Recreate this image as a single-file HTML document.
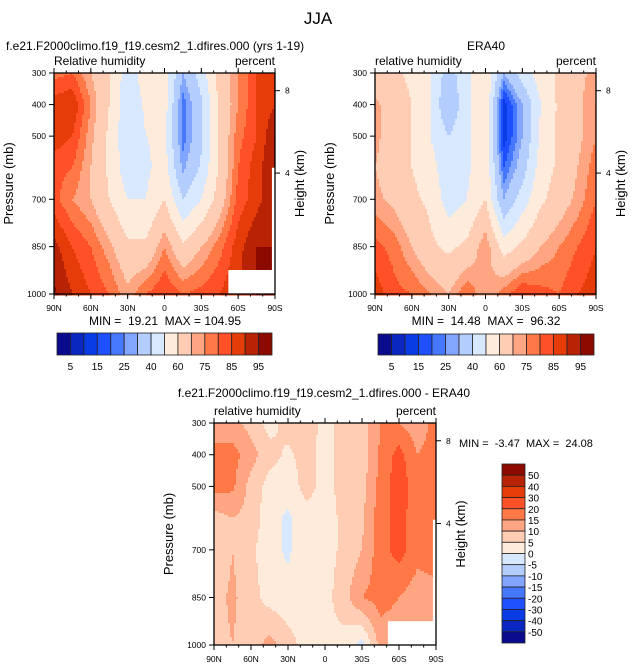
<!DOCTYPE html>
<html><head><meta charset="utf-8">
<style>
body{margin:0;background:#fff;width:637px;height:669px;overflow:hidden}
svg{display:block;font-family:"Liberation Sans",sans-serif}
text{white-space:pre}
</style></head><body>
<svg id="s" width="637" height="669" viewBox="0 0 637 669" xmlns="http://www.w3.org/2000/svg">
<text x="318" y="24" font-size="17" text-anchor="middle">JJA</text>
</svg>
<script>
// ---- data ----
const lats = [90,75,60,45,30,15,0,-15,-30,-45,-60,-75,-90];
const levels = [300,400,500,600,700,850,1000];
const modelRH = [
[78,80,70,60,45,55,55,30,45,65,75,85,90],
[88,90,75,60,42,52,55,22,38,62,75,85,90],
[88,85,72,58,42,50,52,22,38,62,78,85,95],
[82,80,70,58,44,48,55,28,42,62,80,88,95],
[82,75,70,60,50,50,60,40,50,65,82,88,95],
[92,85,80,72,62,62,75,62,70,78,88,95,95],
[96,90,85,80,72,80,85,80,82,85,90,95,95]];
const eraRH = [
[62,62,58,50,35,48,60,30,45,55,62,68,72],
[72,65,60,50,30,48,60,12,30,50,62,68,75],
[72,65,60,50,40,48,58,12,30,52,62,68,75],
[70,65,60,55,42,48,58,20,35,55,62,70,78],
[72,68,62,58,45,50,60,30,45,58,65,72,80],
[82,78,70,62,58,62,75,55,62,70,75,80,85],
[88,82,80,75,70,80,70,78,85,82,80,85,88]];
const diffRH = [
[12,12,8,3,7,8,3,7,7,15,15,12,17],
[17,17,12,7,4,7,3,7,7,16,22,15,17],
[17,16,8,3,2,7,3,7,8,17,23,17,18],
[8,10,8,2,-1,3,3,6,9,18,22,17,19],
[6,10,6,2,-1,4,3,6,10,18,22,17,19],
[8,11,7,3,2,4,3,8,15,17,15,12,12],
[8,10,7,12,7,3,4,3,-2,12,12,12,12]];
// missing-data regions: [latMax (south edge start), pressureMin]
const modelMask = [[-52,924],[-87.5,600]];
const diffMask = [[-51,925],[-87.5,605]];
const eraMask = [];
const rhLevels = [5,10,15,20,25,30,40,50,60,70,75,80,85,90,95];
const rhLabels = ["5","15","25","40","60","75","85","95"];
const diffLevels = [-50,-40,-30,-20,-15,-10,-5,0,5,10,15,20,30,40,50];
const diffLabels = ["50","40","30","20","15","10","5","0","-5","-10","-15","-20","-30","-40","-50"];
const latTicks = ["90N","60N","30N","0","30S","60S","90S"];
const latTickVals = [90,60,30,0,-30,-60,-90];
const presTicks = [300,400,500,700,850,1000];
const hgtTicks = [8,4];
const hgtTickP = [356,617];
const colors = ["#0a0a8c","#0a28c0","#0a3ce6","#1e50ff","#4678ff","#82a5ff","#b4cdff","#d7e8ff","#ffebdc","#ffcdb4","#ffa582","#ff7846","#ff5028","#e63c0a","#b92305","#8c0a00"];

const NS="http://www.w3.org/2000/svg";
const svg=document.getElementById('s');
function mk(tag,attrs,parent){const e=document.createElementNS(NS,tag);for(const k in attrs)e.setAttribute(k,attrs[k]);(parent||svg).appendChild(e);return e;}
function txt(x,y,s,size,anchor,parent,extra){const e=mk('text',Object.assign({x:x,y:y,'font-size':size,'text-anchor':anchor||'start'},extra||{}),parent);e.textContent=s;return e;}
function colorFor(v,lv){let i=0;while(i<lv.length&&v>=lv[i])i++;return colors[i];}

function panel(name,x0,y0,w,h,data,lv,mask,left){
  const g=mk('g',{});
  
  
  const xs=lat=>x0+(90-lat)/180*w;
  const ys=p=>y0+(p-300)/700*h;
  const N=2;
  for(let py=0;py<h;py+=N){
    const p=300+(py+N/2)/h*700;
    let j=0;while(j<levels.length-2&&p>levels[j+1])j++;
    const ty=(p-levels[j])/(levels[j+1]-levels[j]);
    let runStart=0,runCol=null;
    const flush=(end)=>{if(runCol){const r=mk('rect',{x:x0+runStart,y:y0+py,width:end-runStart+0.5,height:N+0.5,fill:runCol},g);}};
    for(let px=0;px<w;px+=N){
      const lat=90-(px+N/2)/w*180;
      let i=0;while(i<lats.length-2&&lat<lats[i+1])i++;
      const tx=(lats[i]-lat)/(lats[i]-lats[i+1]);
      const a=data[j][i],b=data[j][i+1],c=data[j+1][i],d=data[j+1][i+1];
      const v=(a*(1-tx)+b*tx)*(1-ty)+(c*(1-tx)+d*tx)*ty;
      const col=colorFor(v,lv);
      if(col!==runCol){flush(px);runStart=px;runCol=col;}
    }
    flush(w);
  }
  mask.forEach(m=>{const r=mk('rect',{x:xs(m[0]),y:ys(m[1]),width:x0+w-xs(m[0]),height:y0+h-ys(m[1]),fill:'#fff'},g);});
  mk('rect',{x:x0,y:y0,width:w,height:h,fill:'none',stroke:'#000','stroke-width':1.3},g);
  latTickVals.forEach((v,k)=>{
    const x=xs(v);
    mk('line',{x1:x,y1:y0+h,x2:x,y2:y0+h+5,stroke:'#000'},g);
    mk('line',{x1:x,y1:y0,x2:x,y2:y0-5,stroke:'#000'},g);
    txt(x,y0+h+17,latTicks[k],8.5,'middle',g);
  });
  for(let v=90;v>=-90;v-=10){const x=xs(v);mk('line',{x1:x,y1:y0+h,x2:x,y2:y0+h+2.5,stroke:'#000'},g);mk('line',{x1:x,y1:y0,x2:x,y2:y0-2.5,stroke:'#000'},g);}
  presTicks.forEach(p=>{const y=ys(p);mk('line',{x1:x0,y1:y,x2:x0-5,y2:y,stroke:'#000'},g);txt(x0-8,y+3,String(p),8.5,'end',g);});
  hgtTicks.forEach((hk,k)=>{const y=ys(hgtTickP[k]);mk('line',{x1:x0+w,y1:y,x2:x0+w+5,y2:y,stroke:'#000'},g);txt(x0+w+10,y+3,String(hk),8.5,'start',g);});
  txt(x0,y0-8,left,12,'start',g);
  txt(x0+w,y0-8,'percent',12,'end',g);
  txt(0,0,'Pressure (mb)',13,'middle',g,{transform:`translate(${x0-41},${y0+h/2}) rotate(-90)`});
  txt(0,0,'Height (km)',13,'middle',g,{transform:`translate(${x0+w+29},${y0+h/2}) rotate(-90)`});
  return g;
}
function hbar(name,x0,y0,w,h){
  const g=mk('g',{});
  const bw=w/colors.length;
  colors.forEach((c,k)=>{mk('rect',{x:x0+k*bw,y:y0,width:bw,height:h,fill:c,stroke:'#222','stroke-width':0.8},g);});
  rhLabels.forEach((l,k)=>{txt(x0+(2*k+1)*bw,y0+h+15,l,10,'middle',g);});
}
panel('model-panel',54,73,221,221,modelRH,rhLevels,modelMask,'Relative humidity');
panel('era40-panel',375,73,221,221,eraRH,rhLevels,eraMask,'relative humidity');
panel('diff-panel',214,423,222,222,diffRH,diffLevels,diffMask,'relative humidity');
txt(6,50,'f.e21.F2000climo.f19_f19.cesm2_1.dfires.000 (yrs 1-19)',12,'start');
txt(486,50,'ERA40',12,'middle');
txt(165,325,'MIN =  19.21  MAX = 104.95',12,'middle');
txt(486,325,'MIN =  14.48  MAX =  96.32',12,'middle');
hbar('model-colorbar',57,333,215,22);
hbar('era40-colorbar',378,334,216,21);
txt(324,397,'f.e21.F2000climo.f19_f19.cesm2_1.dfires.000 - ERA40',12,'middle');
txt(459,447,'MIN =  -3.47  MAX =  24.08',11,'start');
(function(){
  const g=mk('g',{});
  const x0=502,y0=464,w=23,h=179,bh=h/colors.length;
  colors.slice().reverse().forEach((c,k)=>{mk('rect',{x:x0,y:y0+k*bh,width:w,height:bh,fill:c,stroke:'#222','stroke-width':0.8},g);});
  diffLabels.forEach((l,k)=>{txt(x0+w+3,y0+(k+1)*bh+4,l,10,'start',g);});
})();
</script>
</body></html>
